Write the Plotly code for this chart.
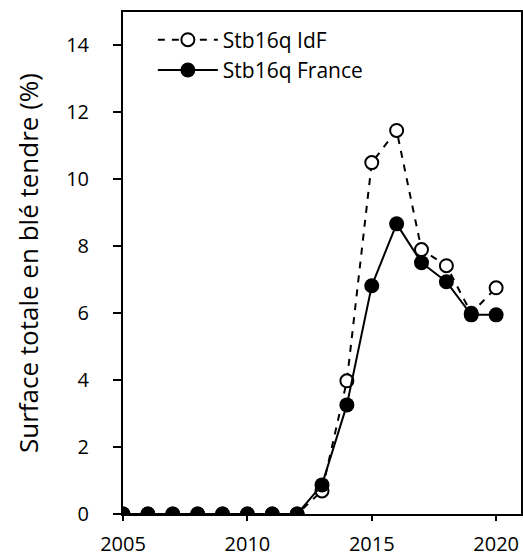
import plotly.graph_objects as go

years = list(range(2005, 2021))
idf = [0, 0, 0, 0, 0, 0, 0, 0, 0.69, 3.98, 10.5, 11.46, 7.9, 7.42, 6.0, 6.76]
france = [0, 0, 0, 0, 0, 0, 0, 0, 0.87, 3.26, 6.82, 8.67, 7.51, 6.94, 5.95, 5.95]
x_ticks = [2005, 2010, 2015, 2020]
y_ticks = [0, 2, 4, 6, 8, 10, 12, 14]

FONT = "Open Sans"

fig = go.Figure()
fig.add_trace(go.Scatter(
    x=years, y=idf, name="Stb16q IdF", mode="lines+markers",
    line=dict(color="black", width=2, dash="7px,7px"),
    marker=dict(symbol="circle", size=13, color="white", line=dict(color="black", width=2)),
))
fig.add_trace(go.Scatter(
    x=years, y=france, name="Stb16q France", mode="lines+markers",
    line=dict(color="black", width=2),
    marker=dict(symbol="circle", size=15, color="black", line=dict(color="black", width=0)),
))

fig.update_layout(
    width=523, height=557,
    margin=dict(l=123, r=2, t=12, b=43),
    paper_bgcolor="white", plot_bgcolor="white",
    font=dict(family=FONT, color="black", size=20),
    showlegend=True,
    legend=dict(x=0.075, y=0.985, xanchor="left", yanchor="top",
                bgcolor="rgba(0,0,0,0)", font=dict(size=21, family=FONT),
                itemwidth=60, tracegroupgap=0),
    xaxis=dict(range=[2005, 2021], tickvals=x_ticks, ticks="outside", ticklen=5,
               tickwidth=1.5, tickcolor="black", showgrid=False, zeroline=False,
               showline=True, linecolor="black", linewidth=2, mirror=True,
               tickfont=dict(size=20), ticklabelstandoff=6, automargin=False),
    yaxis=dict(range=[0, 15], tickvals=y_ticks, ticks="outside", ticklen=8,
               tickwidth=1.5, tickcolor="black", showgrid=False, zeroline=False,
               showline=True, linecolor="black", linewidth=2, mirror=True,
               tickfont=dict(size=20), ticklabelstandoff=20, automargin=False,
               title=dict(text="Surface totale en blé tendre (%)", font=dict(size=26), standoff=20)),
)

fig.write_html("out.html", config={"displayModeBar": False},
               post_script="document.body.style.margin='0';")
